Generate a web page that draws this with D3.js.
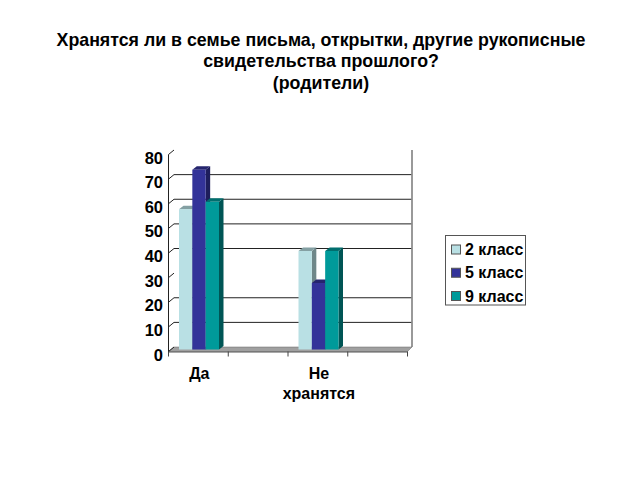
<!DOCTYPE html>
<html>
<head>
<meta charset="utf-8">
<script src="https://cdn.jsdelivr.net/npm/d3@7"></script>
<style>
  html, body { margin: 0; padding: 0; background: #fff; }
  text { font-family: "Liberation Sans", Arial, sans-serif; font-weight: bold; fill: #000; }
</style>
</head>
<body>
<div id="chart"></div>
<script>
const titleLines = ["Хранятся ли в семье письма, открытки, другие рукописные", "свидетельства прошлого?", "(родители)"];
const categories = ["Да", "", "Не хранятся", ""];
const seriesNames = ["2 класс", "5 класс", "9 класс"];
const class2 = [57, null, 40, null];
const class5 = [73, null, 27, null];
const class9 = [60, null, 40, null];
const tickValues = [0, 10, 20, 30, 40, 50, 60, 70, 80];
const seriesColors = ["#b9e0e4", "#333399", "#009a9a"];
const topColors = ["#84a0a3", "#25256e", "#006e6e"];
const sideColors = ["#6f8789", "#1e1e5c", "#005555"];

const width = 640;
const height = 480;

const svg = d3.select("#chart").append("svg")
    .attr("width", width)
    .attr("height", height)
    .style("display", "block");

// Title
svg.selectAll(".title")
    .data(titleLines)
    .enter().append("text")
    .attr("class", "title")
    .attr("x", 321)
    .attr("y", (d, i) => [46, 67, 89][i])
    .attr("text-anchor", "middle")
    .attr("font-size", "17.8px")
    .text(d => d);

// Back wall scale, the front plane is shifted by this depth
const depthX = 5.5;
const depthY = 4.5;
const y = d3.scaleLinear().domain([0, 80]).range([347, 150]);
const x = d3.scaleBand().domain(d3.range(categories.length)).range([168.5, 407.5]);

// Gridlines on the back wall
svg.selectAll(".grid")
    .data(tickValues.filter(d => d > 0 && d !== 80 && d !== 30))
    .enter().append("line")
    .attr("x1", 174)
    .attr("x2", 411.5)
    .attr("y1", d => y(d))
    .attr("y2", d => y(d))
    .attr("stroke", "#222")
    .attr("stroke-width", 1);

// Right wall edge
svg.append("line")
    .attr("x1", 412).attr("x2", 412)
    .attr("y1", y(80)).attr("y2", y(0))
    .attr("stroke", "#777")
    .attr("stroke-width", 1.5);

// Floor
svg.append("path")
    .attr("d", `M168.5,${y(0) + depthY}L174,${y(0)}L412,${y(0)}L407.5,${y(0) + depthY}Z`)
    .attr("fill", "#a0a0a0")
    .attr("stroke", "#666")
    .attr("stroke-width", 0.5);

// Front axis
svg.append("line")
    .attr("x1", 168.5).attr("x2", 168.5)
    .attr("y1", y(80) + depthY).attr("y2", y(0) + depthY + 1)
    .attr("stroke", "#222");
svg.append("line")
    .attr("x1", 168.5).attr("x2", 407.5)
    .attr("y1", y(0) + depthY + 0.5).attr("y2", y(0) + depthY + 0.5)
    .attr("stroke", "#555");

// Y ticks, slanted into the depth
svg.selectAll(".ytick")
    .data(tickValues)
    .enter().append("line")
    .attr("x1", 168.5)
    .attr("x2", 174)
    .attr("y1", d => y(d) + depthY)
    .attr("y2", d => y(d))
    .attr("stroke", "#222");

svg.selectAll(".ylabel")
    .data(tickValues)
    .enter().append("text")
    .attr("x", 163)
    .attr("y", d => y(d) + depthY + 9)
    .attr("text-anchor", "end")
    .attr("font-size", "16.5px")
    .text(d => d);

// X ticks
svg.selectAll(".xtick")
    .data(d3.range(categories.length + 1))
    .enter().append("line")
    .attr("x1", d => 168.5 + d * x.step())
    .attr("x2", d => 168.5 + d * x.step())
    .attr("y1", y(0) + depthY)
    .attr("y2", y(0) + depthY + 5)
    .attr("stroke", "#444");

// Category labels, "Не хранятся" wraps onto two lines
categories.forEach((name, i) => {
    name.split(" ").forEach((word, j) => {
        svg.append("text")
            .attr("x", x(i) + x.bandwidth() / 2 + 1)
            .attr("y", 379 + j * 20)
            .attr("text-anchor", "middle")
            .attr("font-size", "16px")
            .text(word);
    });
});

// Bars
const series = [class2, class5, class9];
const barX = d3.scaleBand().domain(d3.range(3)).range([0, 40]);
const barOffset = 10.5;
const barDx = 4.5;
const barDy = 3.5;
const baseY = 349.5;
const barLen = d => y(0) - y(d);

categories.forEach((name, c) => {
    series.forEach((values, s) => {
        const v = values[c];
        if (v === null) return;
        const x0 = x(c) + barOffset + barX(s);
        const x1 = x0 + barX.bandwidth();
        const yTop = baseY - barLen(v);
        const g = svg.append("g");
        g.append("path")
            .attr("d", `M${x1},${yTop}L${x1 + barDx},${yTop - barDy}L${x1 + barDx},${baseY - barDy}L${x1},${baseY}Z`)
            .attr("fill", sideColors[s]);
        g.append("path")
            .attr("d", `M${x0},${yTop}L${x0 + barDx},${yTop - barDy}L${x1 + barDx},${yTop - barDy}L${x1},${yTop}Z`)
            .attr("fill", topColors[s]);
        g.append("rect")
            .attr("x", x0)
            .attr("y", yTop)
            .attr("width", barX.bandwidth())
            .attr("height", barLen(v))
            .attr("fill", seriesColors[s]);
    });
});

// Legend
svg.append("rect")
    .attr("x", 445.5)
    .attr("y", 235.5)
    .attr("width", 80)
    .attr("height", 69.5)
    .attr("fill", "#fff")
    .attr("stroke", "#555");

const legendY = d3.scalePoint().domain(seriesNames).range([249.5, 296]);
const legendRows = svg.selectAll(".legend")
    .data(seriesNames)
    .enter().append("g")
    .attr("transform", d => `translate(0,${legendY(d)})`);
legendRows.append("rect")
    .attr("x", 451.5)
    .attr("y", -4.5)
    .attr("width", 9)
    .attr("height", 9)
    .attr("fill", (d, i) => seriesColors[i])
    .attr("stroke", "#555");
legendRows.append("text")
    .attr("x", 465)
    .attr("y", 5.5)
    .attr("font-size", "16px")
    .text(d => d);
</script>
</body>
</html>
